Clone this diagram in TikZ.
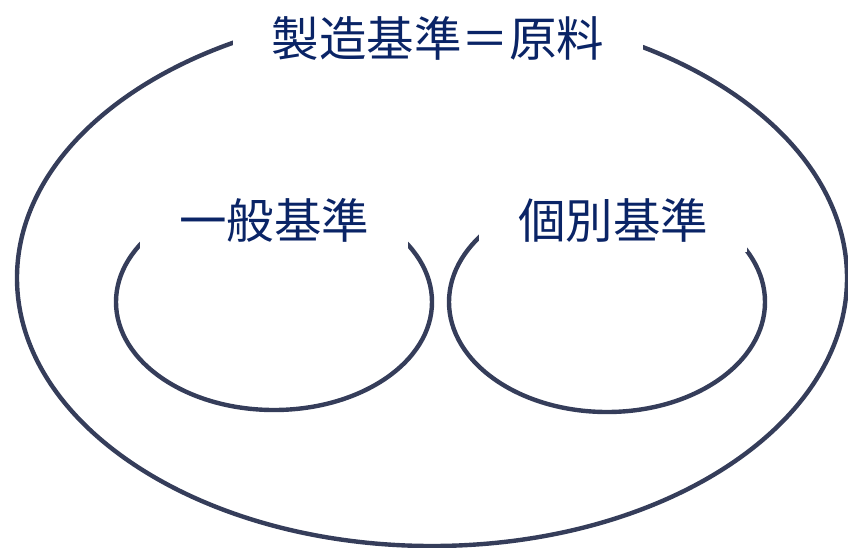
\documentclass[tikz,border=0pt]{standalone}
\usepackage{fontspec}
\newfontfamily\jpfont{Noto Sans CJK JP}
\definecolor{ringcol}{HTML}{353D5A}
\definecolor{textcol}{HTML}{0A2466}
\begin{document}
\begin{tikzpicture}[x=1pt, y=-1pt,
    ring/.style = {draw=ringcol, line width=4.4pt},
    lbl/.style = {fill=white, text=textcol, inner sep=0pt,
                  font=\jpfont\fontsize{47.5}{50}\selectfont}]
    \useasboundingbox (0,0) rectangle (848,547);
    % Draw the outer ellipse and the two inner ones
    \draw [ring] (432,278) ellipse [x radius=415pt, y radius=268pt];
    \draw [ring] (274,302) ellipse [x radius=158pt, y radius=108pt];
    \draw [ring] (607,302) ellipse [x radius=158pt, y radius=110pt];

    % Labels on white boxes that break the lines
    \node [lbl, minimum width=410pt, minimum height=76pt] (whole) at (438,38) {製造基準＝原料};
    \node [lbl, minimum width=268pt, minimum height=64pt] (general) at (274,220) {一般基準};
    \node [lbl, minimum width=268pt, minimum height=64pt] (special) at (613,220) {個別基準};
\end{tikzpicture}
\end{document}
